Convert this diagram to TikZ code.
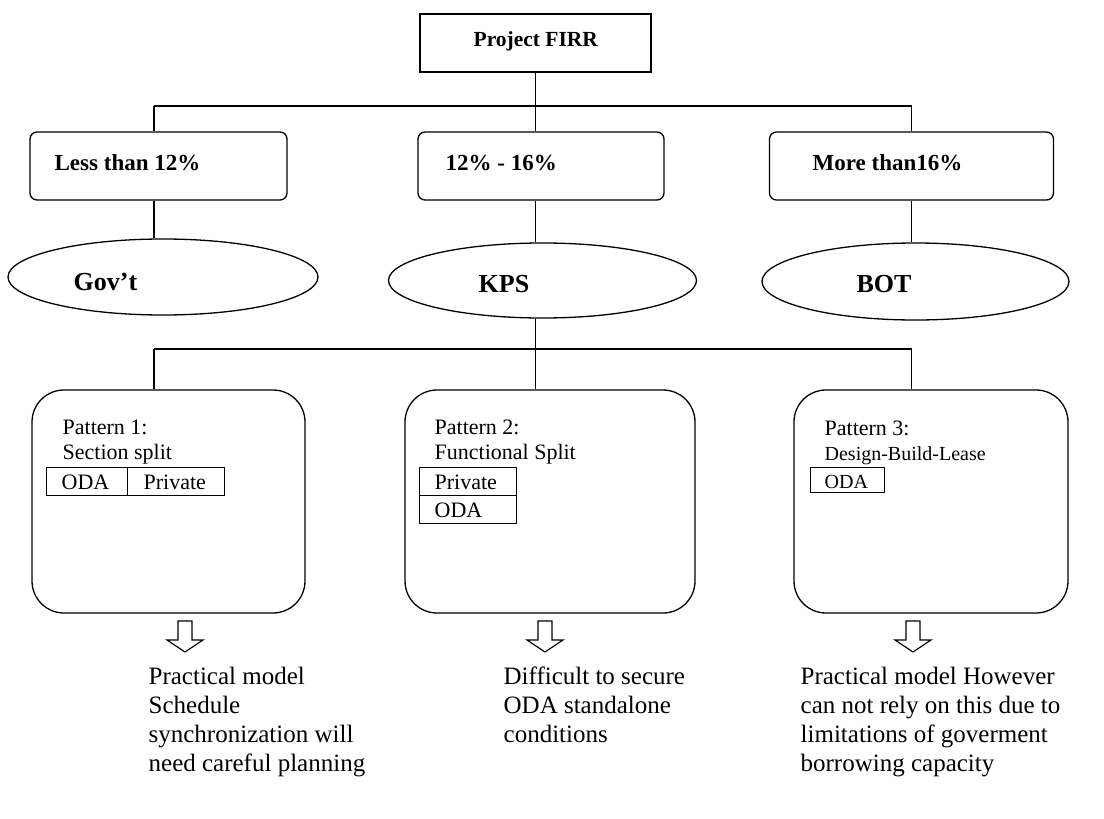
\documentclass[tikz,border=0pt]{standalone}
\usepackage{fontspec}
\setmainfont{Liberation Serif}
\usetikzlibrary{shapes.geometric}
\begin{document}
\begin{tikzpicture}[x=1pt,y=-1pt,
  line width=1.3pt,
  sqbox/.style={draw, rectangle, inner sep=0pt, line width=1.3pt},
  rbox/.style={draw, rectangle, rounded corners=7pt, inner sep=0pt, line width=1.3pt},
  oval/.style={draw, ellipse, inner sep=0pt, line width=1.3pt},
  pbox/.style={draw, rectangle, rounded corners=32pt, inner sep=0pt, line width=1.3pt},
  cell/.style={draw, rectangle, inner sep=0pt, line width=0.9pt},
  lbl/.style={anchor=base west, inner sep=0pt},
  toptxt/.style={lbl, font=\bfseries\fontsize{21.5}{25}\selectfont},
  rangetxt/.style={lbl, font=\bfseries\fontsize{23}{27}\selectfont},
  ovaltxt/.style={lbl, font=\bfseries\fontsize{26}{30}\selectfont},
  pattxt/.style={lbl, font=\fontsize{22}{25}\selectfont},
  smalltxt/.style={lbl, font=\fontsize{20}{24}\selectfont},
  notetxt/.style={anchor=north west, inner sep=0pt, align=left, font=\fontsize{25}{29}\selectfont},
  blockarrow/.style={draw, line width=1.2pt, fill=white},
]
\useasboundingbox (0,0) rectangle (1104,819);

% --- top box ---
\node[sqbox, minimum width=231, minimum height=58] (firr) at (535.5,43) {};
\node[toptxt] (firrt) at (473,46) {Project FIRR};

% --- FIRR ranges ---
\node[rbox, minimum width=257, minimum height=68] (less) at (158.5,166) {};
\node[rbox, minimum width=246, minimum height=68] (mid)  at (541,166) {};
\node[rbox, minimum width=284, minimum height=68] (more) at (911.5,166) {};
\node[rangetxt] (lesst) at (54,170) {Less than 12\%};
\node[rangetxt] (midt)  at (445,170) {12\% - 16\%};
\node[rangetxt] (moret) at (812,170) {More than16\%};

% --- schemes ---
\node[oval, minimum width=310, minimum height=76] (gov) at (163,277) {};
\node[oval, minimum width=308, minimum height=75] (kps) at (542.5,280.5) {};
\node[oval, minimum width=307, minimum height=77] (bot) at (915.5,281.5) {};
\node[ovaltxt] (govt) at (73,290) {Gov’t};
\node[ovaltxt] (kpst) at (478,292) {KPS};
\node[ovaltxt] (bott) at (856,292) {BOT};

% --- patterns ---
\node[pbox, minimum width=273, minimum height=223] (p1) at (168.5,501.5) {};
\node[pbox, minimum width=290, minimum height=223] (p2) at (550,501.5) {};
\node[pbox, minimum width=274, minimum height=223] (p3) at (931,501.5) {};

\node[pattxt] (p1a) at (62,434) {Pattern 1:};
\node[pattxt] (p1b) at (62,459) {Section split};
\node[cell, minimum width=81.5, minimum height=28] (p1oda) at (86.75,481) {};
\node[cell, minimum width=96.5, minimum height=28] (p1prv) at (175.75,481) {};
\node[pattxt] (p1odat) at (61,489) {ODA};
\node[pattxt] (p1prvt) at (143,489) {Private};

\node[pattxt] (p2a) at (434,434) {Pattern 2:};
\node[pattxt] (p2b) at (434,459) {Functional Split};
\node[cell, minimum width=97, minimum height=28] (p2prv) at (467.5,481) {};
\node[cell, minimum width=97, minimum height=28] (p2oda) at (467.5,509) {};
\node[pattxt] (p2prvt) at (434,489) {Private};
\node[pattxt] (p2odat) at (434,517) {ODA};

\node[pattxt] (p3a) at (824,435) {Pattern 3:};
\node[smalltxt] (p3b) at (824,460) {Design-Build-Lease};
\node[cell, minimum width=74, minimum height=25] (p3oda) at (847,479.5) {};
\node[smalltxt] (p3odat) at (824,488) {ODA};

% --- connectors ---
\coordinate (busL) at (154,106);
\coordinate (busR) at (more.north |- 0,106);
\draw (firr.south) -- (firr.south |- mid.north);
\draw (busL) -- (busR);
\draw (busL) -- (busL |- less.north);
\draw (busR) -- (busR |- more.north);
\draw (busL |- less.south) -- (busL |- gov.north);
\draw (firr.south |- mid.south) -- (firr.south |- kps.north);
\draw (more.south) -- (more.south |- bot.north);

\coordinate (busL2) at (154,349);
\coordinate (busR2) at (more.north |- 0,349);
\draw (firr.south |- kps.south) -- (firr.south |- p2.north);
\draw (busL2) -- (busR2);
\draw (busL2) -- (busL2 |- p1.north);
\draw (busR2) -- (busR2 |- p3.north);

% --- outcome arrows ---
\foreach \n/\cx in {a1/185, a2/545, a3/913} {
  \coordinate (\n) at (\cx,621);
  \draw[blockarrow] ([xshift=-7pt]\n) -- ++(0,19) -- ++(-11,0) -- ++(18,12)
     -- ++(18,-12) -- ++(-11,0) -- ++(0,-19) -- cycle;
}

% --- outcomes ---
\node[notetxt] (o1) at (148,666) {Practical model\\Schedule\\synchronization will\\need careful planning};
\node[notetxt] (o2) at (503,666) {Difficult to secure\\ODA standalone\\conditions};
\node[notetxt] (o3) at (800,666) {Practical model However\\can not rely on this due to\\limitations of goverment\\borrowing capacity};
\end{tikzpicture}
\end{document}
